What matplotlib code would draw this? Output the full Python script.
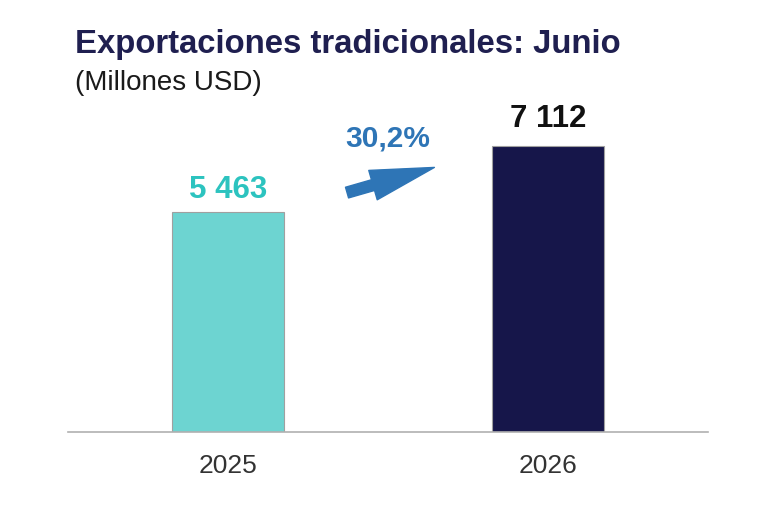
import matplotlib
matplotlib.use("Agg")
import matplotlib.pyplot as plt

# data
years = ["2025", "2026"]
values = [5463, 7112]
value_labels = ["5 463", "7 112"]
growth_label = "30,2%"

bar_colors = ["#6dd4d1", "#16164a"]
label_colors = ["#2cc3bf", "#111111"]
label_offsets = [10, 13.5]  # points above the bar top

plt.rcParams["font.family"] = ["Liberation Sans", "DejaVu Sans"]

fig = plt.figure(figsize=(7.6, 5.07), dpi=100)
ax = fig.add_axes([68 / 760, 75 / 507, 640 / 760, 332 / 507])

x = range(len(years))
ax.bar(x, values, 0.35, color=bar_colors, edgecolor="#a0a0a0", linewidth=0.8, zorder=2)

for i in x:
    ax.annotate(value_labels[i], (i, values[i]), xytext=(0, label_offsets[i]),
                textcoords="offset points", ha="center", va="baseline",
                fontsize=22.5, fontweight="bold", color=label_colors[i])

# growth arrow between the bars
ax.annotate("", xy=(0.645, 6570), xytext=(0.372, 5945),
            arrowprops=dict(arrowstyle="simple,head_length=4.6,head_width=2.2,tail_width=0.8",
                            color="#2e75b6", shrinkA=0, shrinkB=0))
ax.text(0.5, 7100, growth_label, ha="center", va="baseline",
        fontsize=21.5, fontweight="bold", color="#2e75b6")

ax.set_xlim(-0.5, 1.5)
ax.set_ylim(0, 8244)
ax.set_xticks(list(x))
ax.set_xticklabels(years, fontsize=19, color="#333333")
ax.tick_params(axis="x", length=0, pad=16)
ax.set_yticks([])
for s in ["top", "right", "left"]:
    ax.spines[s].set_visible(False)
ax.spines["bottom"].set_color("#b0b0b0")
ax.spines["bottom"].set_linewidth(1.2)

fig.text(75 / 760, 1 - 53 / 507, "Exportaciones tradicionales: Junio", ha="left", va="baseline",
         fontsize=23.7, fontweight="bold", color="#1f1f50")
fig.text(75 / 760, 1 - 90 / 507, "(Millones USD)", ha="left", va="baseline",
         fontsize=20, color="#1a1a1a")

fig.savefig("out.png", dpi=100)
